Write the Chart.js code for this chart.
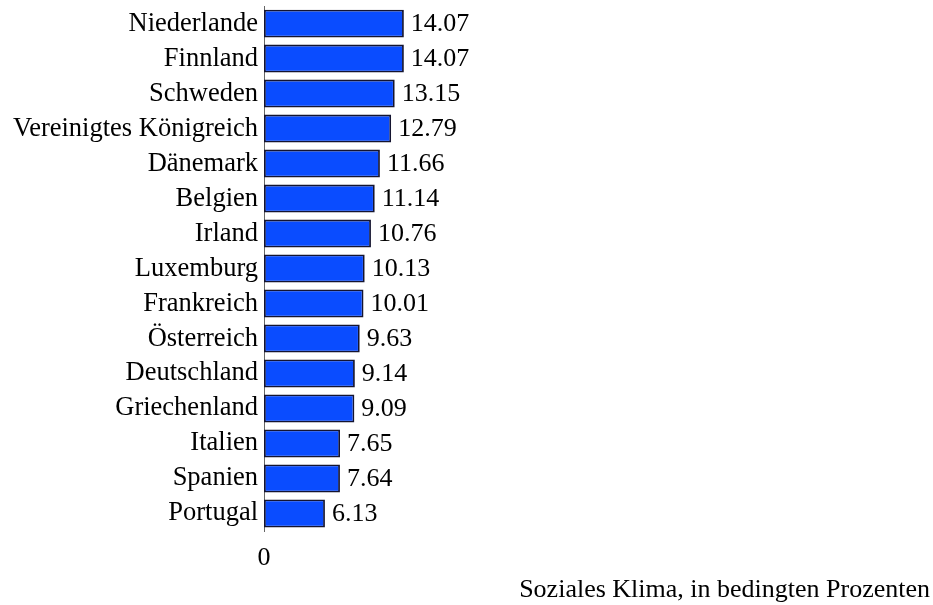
<!DOCTYPE html>
<html>
<head>
<meta charset="utf-8">
<script src="https://cdn.jsdelivr.net/npm/chart.js@4/dist/chart.umd.min.js"></script>
<style>
  html, body { margin: 0; padding: 0; background: #fff; }
  #wrap { width: 933px; height: 605px; }
</style>
</head>
<body>
<div id="wrap"><canvas id="chart"></canvas></div>
<script>
const countries = ['Niederlande', 'Finnland', 'Schweden', 'Vereinigtes Königreich', 'Dänemark',
    'Belgien', 'Irland', 'Luxemburg', 'Frankreich', 'Österreich', 'Deutschland',
    'Griechenland', 'Italien', 'Spanien', 'Portugal'];
const climate = [14.07, 14.07, 13.15, 12.79, 11.66, 11.14, 10.76, 10.13, 10.01, 9.63, 9.14, 9.09, 7.65, 7.64, 6.13];
const xTickLabels = [0];
const axisTitle = 'Soziales Klima, in bedingten Prozenten';

const serif = "'Liberation Serif', 'Times New Roman', serif";

// writes the value right next to each bar
const valueLabels = {
    id: 'valueLabels',
    afterDatasetsDraw(chart) {
        const ctx = chart.ctx;
        const meta = chart.getDatasetMeta(0);
        ctx.save();
        ctx.font = '26px ' + serif;
        ctx.fillStyle = '#000';
        ctx.textAlign = 'left';
        ctx.textBaseline = 'middle';
        meta.data.forEach((bar, i) => {
            ctx.fillText(climate[i].toFixed(2), bar.x + 7, bar.y + 1);
        });
        ctx.restore();
    }
};

new Chart(document.getElementById('chart'), {
    type: 'bar',
    data: {
        labels: countries,
        datasets: [{
            data: climate,
            backgroundColor: '#0a4cff',
            borderColor: '#141430',
            borderWidth: 1.8,
            borderSkipped: false,
            categoryPercentage: 0.8,
            barPercentage: 1
        }]
    },
    options: {
        indexAxis: 'y',
        responsive: true,
        maintainAspectRatio: false,
        animation: false,
        layout: { padding: { top: 6, right: 3, bottom: 0, left: 0 } },
        plugins: {
            legend: { display: false },
            tooltip: { enabled: false }
        },
        scales: {
            x: {
                min: 0,
                max: 67,
                grid: { display: false, drawTicks: false },
                border: { display: false },
                afterBuildTicks(scale) {
                    scale.ticks = xTickLabels.map(v => ({ value: v }));
                },
                afterFit(scale) { scale.height = 74; },
                ticks: {
                    padding: 12,
                    color: '#000',
                    font: { family: serif, size: 26 }
                },
                title: {
                    display: true,
                    text: axisTitle,
                    align: 'end',
                    color: '#000',
                    padding: { top: 0, bottom: -1 },
                    font: { family: serif, size: 26 }
                }
            },
            y: {
                grid: { display: false, drawTicks: false },
                border: { display: true, color: '#666', width: 1 },
                afterFit(scale) { scale.width = 264; },
                ticks: {
                    autoSkip: false,
                    padding: 6,
                    color: '#000',
                    font: { family: serif, size: 26.5, lineHeight: 0.01 }
                }
            }
        }
    },
    plugins: [valueLabels]
});
</script>
</body>
</html>
